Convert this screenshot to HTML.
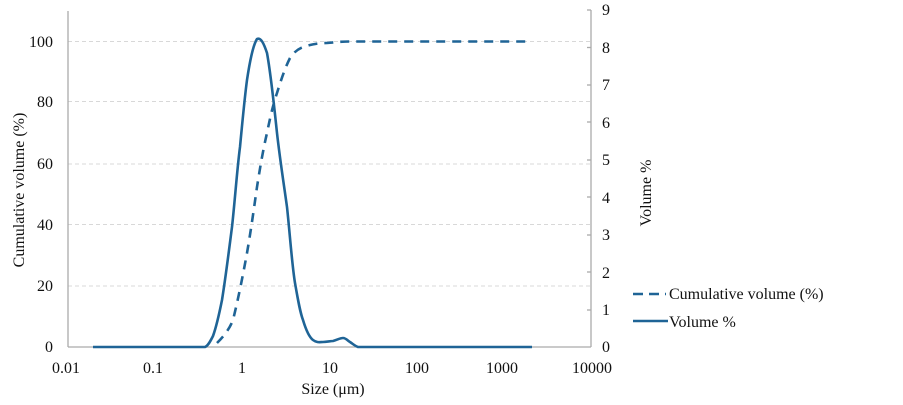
<!DOCTYPE html>
<html><head><meta charset="utf-8"><style>
html,body{margin:0;padding:0;background:#fff;}
svg{display:block;font-family:"Liberation Serif",serif;}
</style></head><body>
<svg width="903" height="405" viewBox="0 0 903 405" xmlns="http://www.w3.org/2000/svg">
<g stroke="#d8d8d8" stroke-width="1" stroke-dasharray="4,3">
<line x1="68" y1="41.5" x2="590" y2="41.5"/>
<line x1="68" y1="101.5" x2="590" y2="101.5"/>
<line x1="68" y1="164" x2="590" y2="164"/>
<line x1="68" y1="224.5" x2="590" y2="224.5"/>
<line x1="68" y1="286" x2="590" y2="286"/>
</g>
<g stroke="#aaa" stroke-width="1.3" fill="none">
<line x1="68" y1="11" x2="68" y2="347"/>
<line x1="68" y1="347" x2="591" y2="347"/>
<line x1="591" y1="10" x2="591" y2="347"/>
<line x1="587" y1="10" x2="591" y2="10"/><line x1="587" y1="47.5" x2="591" y2="47.5"/><line x1="587" y1="85" x2="591" y2="85"/><line x1="587" y1="122" x2="591" y2="122"/><line x1="587" y1="160" x2="591" y2="160"/><line x1="587" y1="197" x2="591" y2="197"/><line x1="587" y1="235" x2="591" y2="235"/><line x1="587" y1="272" x2="591" y2="272"/><line x1="587" y1="310" x2="591" y2="310"/>
</g>
<g font-size="16" fill="#111" text-anchor="end">
<text x="53" y="47">100</text><text x="53" y="107">80</text><text x="53" y="169">60</text><text x="53" y="230">40</text><text x="53" y="291">20</text><text x="53" y="352">0</text>
</g>
<g font-size="16" fill="#111" text-anchor="start">
<text x="602" y="15">9</text><text x="602" y="53">8</text><text x="602" y="90">7</text><text x="602" y="128">6</text><text x="602" y="165">5</text><text x="602" y="203">4</text><text x="602" y="240">3</text><text x="602" y="278">2</text><text x="602" y="315">1</text><text x="602" y="352">0</text>
</g>
<g font-size="16" fill="#111" text-anchor="middle">
<text x="66" y="373">0.01</text><text x="153" y="373">0.1</text><text x="242" y="373">1</text><text x="330" y="373">10</text><text x="417" y="373">100</text><text x="502" y="373">1000</text><text x="592" y="373">10000</text>
<text x="333" y="394">Size (μm)</text>
</g>
<text font-size="16" fill="#111" text-anchor="middle" transform="translate(24,190) rotate(-90)">Cumulative volume (%)</text>
<text font-size="16" fill="#111" text-anchor="middle" transform="translate(651,193) rotate(-90)">Volume %</text>
<path d="M93,347 L205,347 C208,346 211,340 213,336 C217,325 220,310 222,300 C226,275 229,250 232,227 C235,200 237,170 240,147 C243,115 245,95 247,80 C250,60 253,45 257,39 C261,37 264,44 267,53 C271,75 274,105 277,133 C280,160 284,185 287,207 C290,235 292,265 295,283 C298,300 300,312 303,320 C306,330 309,337 313,340 C317,343 320,342 323,342 C327,342 330,341 333,341 C337,340 340,338 343,338 C346,338 348,341 350,342 C353,344 355,346 358,347 L532,347" fill="none" stroke="#1f6496" stroke-width="2.6"/>
<path d="M217,343 C223,337 229,330 233,320 C238,300 243,275 247,253 C251,230 254,208 257,187 C260,168 263,150 267,133 C270,118 273,105 277,93 C281,80 285,68 290,58 C294,52 298,49 303,47 C312,44 320,43 327,43 C337,42 344,41.5 350,41.5 L526,41.5" fill="none" stroke="#1f6496" stroke-width="2.6" stroke-dasharray="9,7"/>
<line x1="633" y1="294" x2="666" y2="294" stroke="#1f6496" stroke-width="2.6" stroke-dasharray="10,6"/>
<line x1="633" y1="321" x2="668" y2="321" stroke="#1f6496" stroke-width="2.6"/>
<g font-size="16" fill="#111"><text x="669" y="299">Cumulative volume (%)</text><text x="669" y="327">Volume %</text></g>
</svg>
</body></html>
